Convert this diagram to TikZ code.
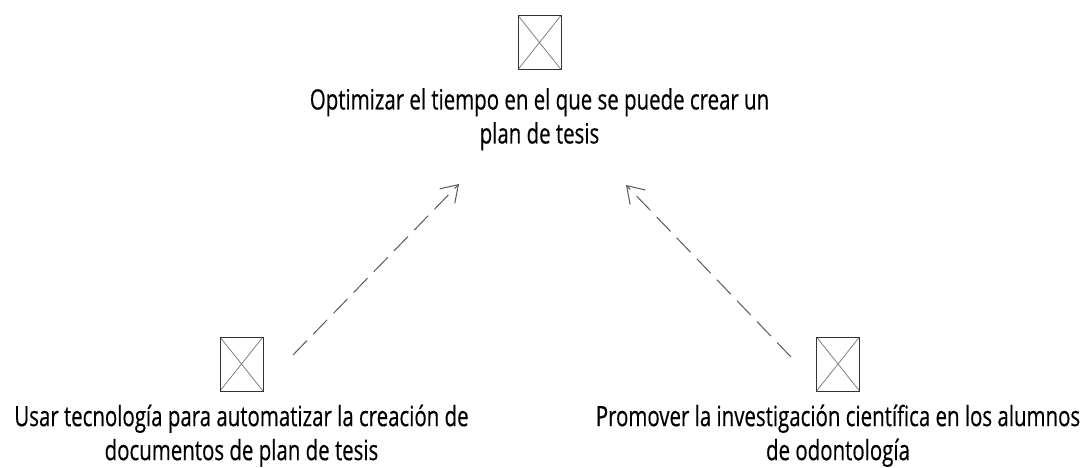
\documentclass[tikz,border=0pt]{standalone}
\usepackage{fontspec}
\newfontfamily\diagfont[FakeStretch=0.73, FakeBold=0.4]{Open Sans}
\usetikzlibrary{arrows.meta, positioning}
\tikzset{
  >={Straight Barb[length=16pt,width=21pt]},
  % Specifications for style of nodes:
      icon/.style = {rectangle, draw=black!80, line width=1pt,
                     minimum width=43pt, minimum height=54pt, inner sep=0pt,
                     path picture={\draw[black!50, line width=0.8pt]
                       (path picture bounding box.north west) --
                       (path picture bounding box.south east)
                       (path picture bounding box.north east) --
                       (path picture bounding box.south west);}},
   objtext/.style = {inner sep=0pt, align=center, text=black,
                     font={\diagfont\fontsize{28pt}{34pt}\selectfont}},
   depends/.style = {->, dash pattern=on 20pt off 9pt, draw=black!65,
                     line width=1pt},
}

\begin{document}
\begin{tikzpicture}[x=1pt, y=-1pt]
    \useasboundingbox (0,0) rectangle (1088,468);
    % Specification of nodes (position, etc.)
    \node (goalIcon)     [icon] at (539.5,42.5)                       {};
    \node (goalText)     [objtext, below=18pt of goalIcon]
                {Optimizar el tiempo en el que se puede crear un\\plan de tesis};
    \node (techIcon)     [icon] at (241.5,364)                        {};
    \node (techText)     [objtext, below=13pt of techIcon]
                {Usar tecnología para automatizar la creación de\\documentos de plan de tesis};
    \node (researchIcon) [icon] at (838,364)                          {};
    \node (researchText) [objtext, below=13pt of researchIcon]
                {Promover la investigación científica en los alumnos\\de odontología};

    % Free ends of the dependency arrows
    \coordinate (techTail)     at (293,355);
    \coordinate (goalLeft)     at (459,184);
    \coordinate (researchTail) at (791,357);
    \coordinate (goalRight)    at (626,185);

    % Specification of lines between nodes specified above
    \draw[depends] (techTail)     -- (goalLeft);
    \draw[depends] (researchTail) -- (goalRight);
\end{tikzpicture}
\end{document}
